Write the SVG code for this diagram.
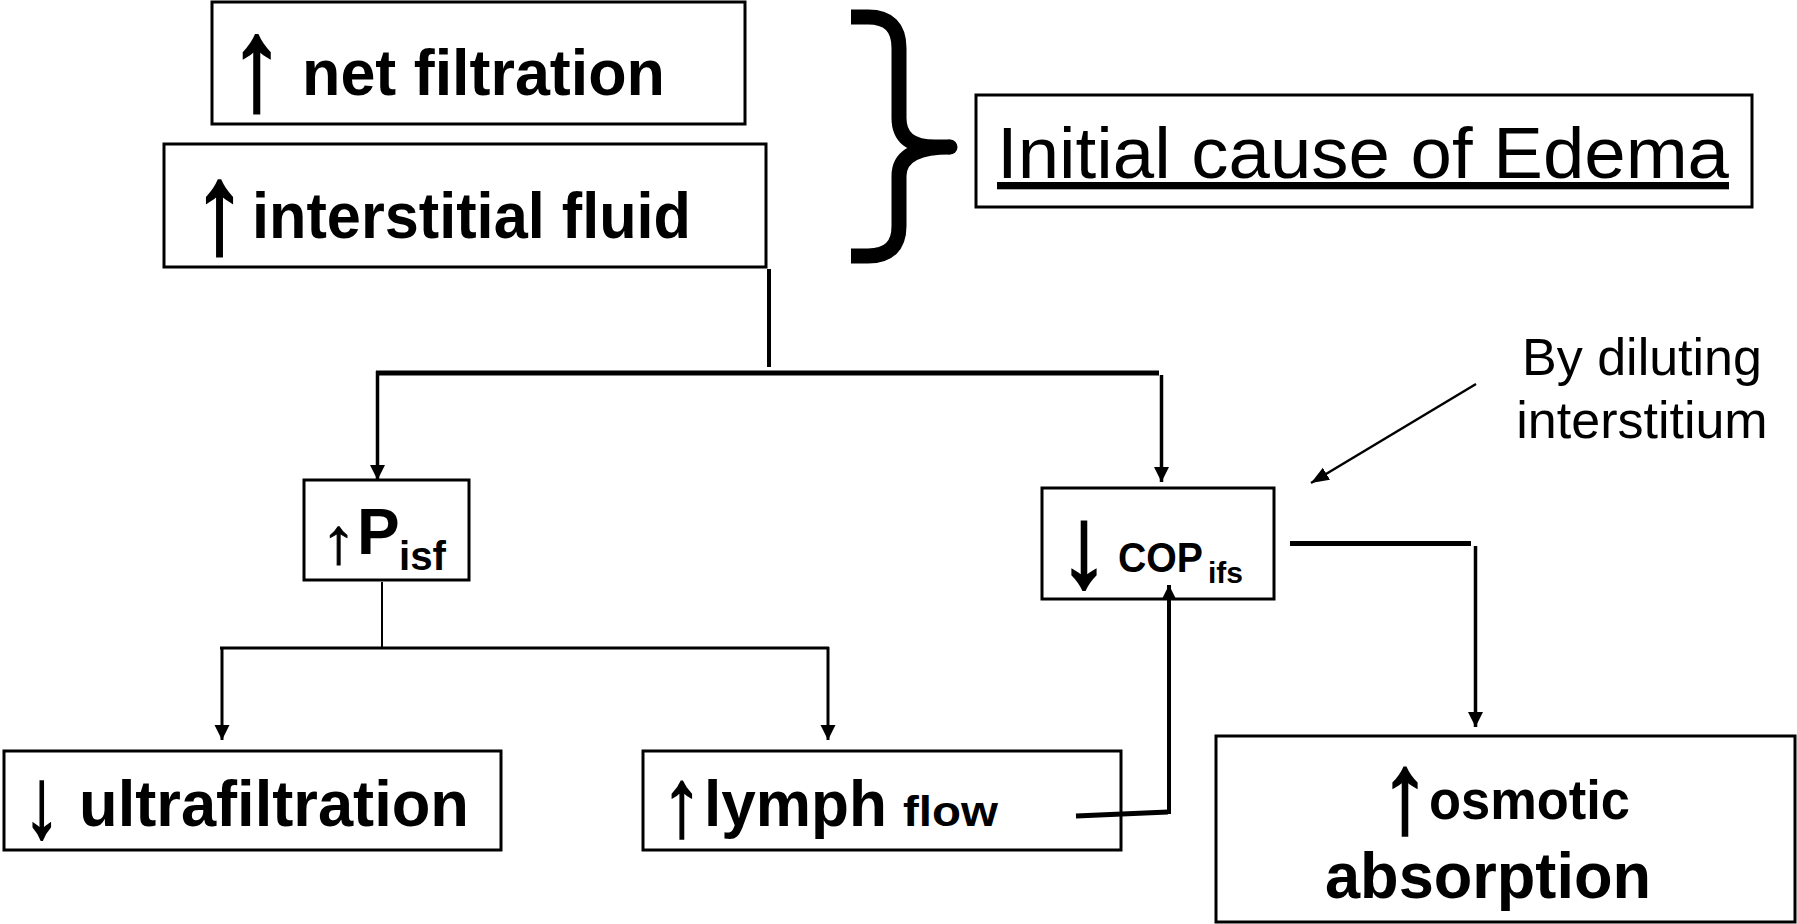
<svg xmlns="http://www.w3.org/2000/svg" width="1797" height="924" viewBox="0 0 1797 924">
<style>
.box{fill:#fff;stroke:#000;stroke-width:3}
.b{font-family:"Liberation Sans",Arial,sans-serif;font-weight:bold;fill:#000}
.r{font-family:"Liberation Sans",Arial,sans-serif;font-weight:normal;fill:#000}
.ar{font-family:"Liberation Sans",Arial,sans-serif;fill:#000;stroke:#000;stroke-linejoin:miter;text-anchor:middle}
.c{stroke:#000;fill:none}
</style>
<defs>
<marker id="ah" markerUnits="userSpaceOnUse" markerWidth="16" markerHeight="16" refX="15" refY="7.5" orient="auto">
<path d="M0,0 L15,7.5 L0,15 z" fill="#000"/>
</marker>
<marker id="ahd" markerUnits="userSpaceOnUse" markerWidth="20" markerHeight="16" refX="18" refY="7" orient="auto">
<path d="M0,0 L18,7 L0,14 z" fill="#000"/>
</marker>
</defs>
<rect width="1797" height="924" fill="#fff"/>

<g id="brace">
<path d="M851,17 L868,17 Q899,17 899,48 L899,118 Q899,147 935,147 L950,147 M950,147 Q899,147 899,176 L899,226 Q899,256 868,256 L851,256" fill="none" stroke="#000" stroke-width="15" stroke-linejoin="round"/>
<circle cx="950" cy="147" r="7.5" fill="#000"/>
</g>

<g id="net-filtration">
<rect class="box" x="212" y="2" width="533" height="122"/>
<text class="ar" transform="translate(256.7,109) scale(1,1.2)" font-size="109" stroke-width="2.5">↑</text>
<text class="b" x="302" y="95" font-size="64" textLength="363" lengthAdjust="spacingAndGlyphs">net filtration</text>
</g>

<g id="interstitial-fluid">
<rect class="box" x="164" y="144" width="602" height="123"/>
<text class="ar" transform="translate(219.5,252) scale(1,1.21)" font-size="105" stroke-width="2.5">↑</text>
<text class="b" x="252" y="238" font-size="64" textLength="439" lengthAdjust="spacingAndGlyphs">interstitial fluid</text>
</g>

<g id="initial-cause">
<rect class="box" x="976" y="95" width="776" height="112"/>
<text class="r" x="997" y="178" font-size="73" textLength="732" lengthAdjust="spacingAndGlyphs" text-decoration="underline">Initial cause of Edema</text>
</g>

<g id="by-diluting">
<text class="r" x="1642" y="375" font-size="52" text-anchor="middle">By diluting</text>
<text class="r" x="1642" y="438" font-size="52" text-anchor="middle">interstitium</text>
</g>

<g id="pisf">
<rect class="box" x="304" y="480" width="165" height="100"/>
<text class="ar" transform="translate(338.5,562.5) scale(1,0.91)" font-size="71" stroke-width="1">↑</text>
<text class="b" x="357" y="554" font-size="64">P</text>
<text class="b" x="399" y="570" font-size="41" textLength="47" lengthAdjust="spacingAndGlyphs">isf</text>
</g>

<g id="cop">
<rect class="box" x="1042" y="488" width="232" height="111"/>
<text class="ar" transform="translate(1084,586) scale(1,1.18)" font-size="97" stroke-width="2.5">↓</text>
<text class="b" x="1118" y="572" font-size="42" textLength="85" lengthAdjust="spacingAndGlyphs">COP</text>
<text class="b" x="1208" y="583" font-size="30" textLength="35" lengthAdjust="spacingAndGlyphs">ifs</text>
</g>

<g id="ultrafiltration">
<rect class="box" x="4" y="751" width="497" height="99"/>
<text class="ar" transform="translate(41.7,837) scale(1,1.36)" font-size="73" stroke-width="1.5">↓</text>
<text class="b" x="79" y="826" font-size="64" textLength="390" lengthAdjust="spacingAndGlyphs">ultrafiltration</text>
</g>

<g id="lymph-flow">
<rect class="box" x="643" y="751" width="478" height="99"/>
<text class="ar" transform="translate(682,836) scale(1,1.2)" font-size="81" stroke-width="1.5">↑</text>
<text class="b" x="704" y="826" font-size="64" textLength="183" lengthAdjust="spacingAndGlyphs">lymph</text>
<text class="b" x="903" y="826" font-size="42" textLength="95" lengthAdjust="spacingAndGlyphs">flow</text>
</g>

<g id="osmotic-absorption">
<rect class="box" x="1216" y="736" width="579" height="186"/>
<text class="ar" transform="translate(1405,832) scale(1,1.17)" font-size="97" stroke-width="2.5">↑</text>
<text class="b" x="1429" y="819" font-size="55" textLength="201" lengthAdjust="spacingAndGlyphs">osmotic</text>
<text class="b" x="1325" y="898" font-size="64" textLength="326" lengthAdjust="spacingAndGlyphs">absorption</text>
</g>

<g id="connectors">
<line class="c" x1="769" y1="269" x2="769" y2="367" stroke-width="4"/>
<line class="c" x1="376" y1="373" x2="1159" y2="373" stroke-width="5"/>
<line class="c" x1="377.5" y1="371" x2="377.5" y2="480" stroke-width="3.5" marker-end="url(#ah)"/>
<line class="c" x1="1161.5" y1="375" x2="1161.5" y2="482" stroke-width="3.5" marker-end="url(#ah)"/>
<line class="c" x1="382" y1="582" x2="382" y2="648" stroke-width="2"/>
<line class="c" x1="220" y1="648" x2="829" y2="648" stroke-width="3"/>
<line class="c" x1="222" y1="647" x2="222" y2="740" stroke-width="3" marker-end="url(#ah)"/>
<line class="c" x1="828" y1="647" x2="828" y2="740" stroke-width="3" marker-end="url(#ah)"/>
<line class="c" x1="1076" y1="816" x2="1168" y2="812" stroke-width="5"/>
<line class="c" x1="1169" y1="814" x2="1169" y2="585" stroke-width="4" marker-end="url(#ah)"/>
<line class="c" x1="1290" y1="543.5" x2="1471" y2="543.5" stroke-width="5"/>
<line class="c" x1="1475.5" y1="546" x2="1475.5" y2="727" stroke-width="3.5" marker-end="url(#ah)"/>
<line class="c" x1="1476" y1="384" x2="1311" y2="483" stroke-width="2.5" marker-end="url(#ahd)"/>
</g>
</svg>
